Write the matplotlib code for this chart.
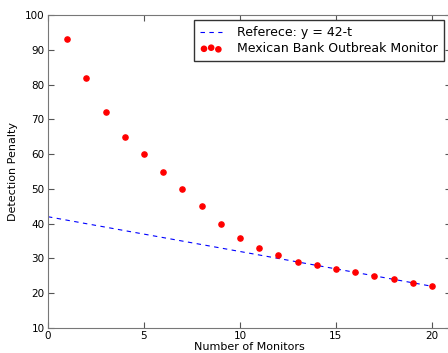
import numpy as np
import matplotlib
matplotlib.use('Agg')
import matplotlib.pyplot as plt

# --- Data --- #
monitors = [1, 2, 3, 4, 5, 6, 7, 8, 9, 10, 11, 12, 13, 14, 15, 16, 17, 18, 19, 20]
penalty = [93, 82, 72, 65, 60, 55, 50, 45, 40, 36, 33, 31, 29, 28, 27, 26, 25, 24, 23, 22]
ref_t = [0, 20]
ref_y = [42 - t for t in ref_t]

fig = plt.figure(figsize=(4.48, 3.53), dpi=100)
ax = fig.add_axes([0.107, 0.0708, 0.9, 0.8867])

ax.plot(ref_t, ref_y, '--', color='blue', lw=0.8, dashes=(4, 4), label='Referece: y = 42-t')
ax.scatter(monitors, penalty, s=14, color='red', zorder=3, label='Mexican Bank Outbreak Monitor')

ax.set_xlim(0, 21)
ax.set_ylim(10, 100)
ax.set_xticks([0, 5, 10, 15, 20])
ax.set_yticks(range(10, 101, 10))
ax.tick_params(direction='in', top=True, right=True, labelsize=7.5, length=4,
               pad=2.5, color='#555555')
for sp in ax.spines.values():
    sp.set_color('#777777')

ax.set_xlabel('Number of Monitors', fontsize=8, labelpad=0.5)
ax.set_ylabel('Detection Penalty', fontsize=8, labelpad=5)

leg = ax.legend(loc='upper right', bbox_to_anchor=(0.9826, 0.985), fontsize=9,
                scatterpoints=3, fancybox=False, framealpha=1, borderaxespad=0,
                borderpad=0.5, handletextpad=1.2, handlelength=1.75, labelspacing=0.25)
leg.get_frame().set_edgecolor('#333333')

plt.savefig('out.png', dpi=100)
